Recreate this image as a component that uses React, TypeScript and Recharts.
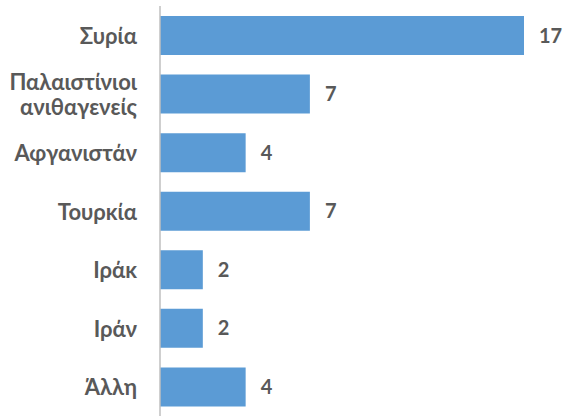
import React from "react";
import { BarChart, Bar, XAxis, YAxis, LabelList } from "recharts";

const categories = ["Συρία", "Παλαιστίνιοι ανιθαγενείς", "Αφγανιστάν", "Τουρκία", "Ιράκ", "Ιράν", "Άλλη"];
const tickLines: string[][] = [["Συρία"], ["Παλαιστίνιοι", "ανιθαγενείς"], ["Αφγανιστάν"], ["Τουρκία"], ["Ιράκ"], ["Ιράν"], ["Άλλη"]];
const values = [17, 7, 4, 7, 2, 2, 4];

const data = categories.map((c, i) => ({ name: c, value: values[i] }));

const FONT = "Lato, 'Open Sans', sans-serif";
const TEXT = "#595959";
const FS = 22;

const Tick = (props: any) => {
  const { x, y, payload } = props;
  const idx = categories.indexOf(payload.value);
  const lines = idx >= 0 ? tickLines[idx] : [payload.value];
  const lh = 25;
  const start = -((lines.length - 1) * lh) / 2;
  return (
    <text x={x} y={y} textAnchor="end" fill={TEXT} fontFamily={FONT} fontWeight={700} fontSize={FS}>
      {lines.map((l: string, i: number) => (
        <tspan key={i} x={x} dy={i === 0 ? start : lh} dominantBaseline="central">
          {l}
        </tspan>
      ))}
    </text>
  );
};

export default function App() {
  return (
    <div style={{ position: "absolute", left: 0, top: 0, width: 564, height: 416, background: "#fff" }}>
      <BarChart
        width={564}
        height={416}
        data={data}
        layout="vertical"
        margin={{ top: 6, right: 40, bottom: 0, left: 0 }}
        barCategoryGap={0}
      >
        <XAxis type="number" domain={[0, 17]} hide />
        <YAxis
          type="category"
          dataKey="name"
          width={160}
          tickLine={false}
          tickSize={0}
          tickMargin={23}
          axisLine={{ stroke: "#BFBFBF", strokeWidth: 1.5 }}
          tick={<Tick />}
          interval={0}
        />
        <Bar dataKey="value" fill="#5B9BD5" barSize={39} isAnimationActive={false}>
          <LabelList
            dataKey="value"
            position="right"
            offset={15}
            fill={TEXT}
            fontFamily={FONT}
            fontWeight={700}
            fontSize={20}
          />
        </Bar>
      </BarChart>
    </div>
  );
}
